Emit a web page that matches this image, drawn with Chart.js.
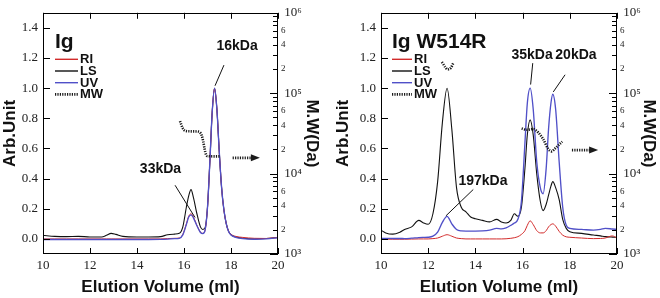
<!DOCTYPE html>
<html><head><meta charset="utf-8">
<script src="https://cdn.jsdelivr.net/npm/chart.js@4.4.1/dist/chart.umd.min.js"></script>
<style>
html,body{margin:0;padding:0;background:#fff;}
#wrap{position:relative;width:660px;height:298px;overflow:hidden;background:#fff;}
.pane{position:absolute;top:0;width:330px;height:298px;}
</style></head><body>
<div id="wrap">
<div class="pane" style="left:0"><canvas id="c1" width="330" height="298"></canvas></div>
<div class="pane" style="left:330px"><canvas id="c2" width="330" height="298"></canvas></div>
</div>
<script>
// ---------- data ----------
const igVol = [10, 10.5, 11, 11.5, 12, 12.5, 12.7, 12.9, 13.1, 13.4, 14, 14.5, 15, 15.3, 15.6, 15.8, 15.95, 16.1, 16.2, 16.3, 16.4, 16.55, 16.7, 16.8, 16.9, 17.0, 17.1, 17.2, 17.3, 17.4, 17.5, 17.6, 17.7, 17.8, 17.9, 18.0, 18.2, 18.5, 19.0, 19.5, 20];
const igLS  = [0.024, 0.017, 0.015, 0.017, 0.013, 0.013, 0.024, 0.037, 0.030, 0.017, 0.013, 0.013, 0.015, 0.028, 0.032, 0.037, 0.08, 0.21, 0.286, 0.327, 0.275, 0.167, 0.08, 0.063, 0.075, 0.21, 0.51, 0.84, 1.0, 0.86, 0.58, 0.34, 0.19, 0.10, 0.05, 0.028, 0.013, 0.005, 0.0, 0.003, 0.01];
const igRI  = [0, 0, 0, 0, 0, 0, 0, 0, 0, 0, 0, 0, 0, 0.002, 0.004, 0.006, 0.03, 0.10, 0.15, 0.167, 0.145, 0.09, 0.045, 0.037, 0.06, 0.21, 0.51, 0.84, 0.995, 0.86, 0.58, 0.34, 0.19, 0.10, 0.05, 0.03, 0.017, 0.01, 0.004, 0.003, 0.01];
const igUV  = [-0.004, -0.004, -0.004, -0.004, -0.004, -0.004, -0.004, -0.004, -0.004, -0.004, -0.004, -0.004, -0.003, -0.001, 0.002, 0.004, 0.027, 0.095, 0.145, 0.16, 0.14, 0.087, 0.043, 0.035, 0.06, 0.21, 0.51, 0.84, 1.0, 0.86, 0.58, 0.34, 0.19, 0.10, 0.048, 0.026, 0.011, 0.002, -0.002, 0.0, 0.009];
const igMwVol = [15.83, 15.88, 15.95, 16.05, 16.2, 16.4, 16.6, 16.68, 16.75, 16.82, 16.88, 16.93, 17.0, 17.2, 17.4, 17.56];
const igMw    = [45000, 41000, 36500, 34000, 33600, 33500, 33300, 32500, 30000, 25000, 20000, 17500, 16500, 16400, 16400, 16400];

const mutVol = [10, 10.2, 10.5, 10.8, 11, 11.3, 11.6, 11.8, 12, 12.2, 12.4, 12.6, 12.8, 13, 13.2, 13.4, 13.6, 13.8, 14, 14.3, 14.6, 14.9, 15.1, 15.3, 15.5, 15.65, 15.8, 15.95, 16.1, 16.2, 16.32, 16.45, 16.6, 16.75, 16.87, 17.0, 17.1, 17.2, 17.28, 17.4, 17.55, 17.7, 17.85, 18, 18.5, 19, 19.3, 19.5, 19.8, 20];
const mutLS = [0.058, 0.040, 0.032, 0.045, 0.063, 0.08, 0.123, 0.106, 0.097, 0.167, 0.38, 0.77, 1.0, 0.73, 0.34, 0.21, 0.18, 0.145, 0.134, 0.123, 0.113, 0.13, 0.113, 0.106, 0.123, 0.167, 0.15, 0.21, 0.47, 0.69, 0.79, 0.69, 0.43, 0.25, 0.188, 0.23, 0.29, 0.35, 0.38, 0.34, 0.26, 0.13, 0.07, 0.048, 0.037, 0.026, 0.02, 0.015, 0.012, 0.011];
const mutUV = [0.004, 0.004, 0.003, 0.003, 0.002, 0.005, 0.009, 0.010, 0.011, 0.018, 0.045, 0.11, 0.15, 0.10, 0.062, 0.053, 0.052, 0.052, 0.052, 0.053, 0.058, 0.07, 0.067, 0.074, 0.09, 0.105, 0.13, 0.25, 0.64, 0.90, 1.0, 0.86, 0.51, 0.34, 0.30, 0.47, 0.73, 0.90, 0.96, 0.86, 0.51, 0.21, 0.09, 0.07, 0.063, 0.058, 0.063, 0.07, 0.066, 0.063];
const mutRI = [-0.002, -0.002, -0.002, -0.002, -0.002, -0.001, 0, 0, 0, 0.002, 0.006, 0.018, 0.028, 0.018, 0.006, 0.002, 0, 0, 0, 0, 0, 0, 0, 0.001, 0.004, 0.008, 0.015, 0.03, 0.055, 0.09, 0.12, 0.095, 0.055, 0.04, 0.04, 0.055, 0.08, 0.095, 0.10, 0.085, 0.05, 0.025, 0.014, 0.011, 0.006, 0.002, 0.003, 0.006, 0.02, 0.006];
const mutMwVol = [12.58, 12.72, 12.82, 12.96, 13.07, 14.5, 15.96, 16.17, 16.45, 16.66, 16.87, 17.08, 17.23, 17.37, 17.58, 17.68];
const mutMw    = [244000, 212000, 198000, 207000, 239000, null, 36400, 35100, 35800, 32500, 26900, 20400, 18900, 20400, 23500, 25000];

const xTicks = [10, 12, 14, 16, 18, 20];
const yTicks = [0, 0.2, 0.4, 0.6, 0.8, 1.0, 1.2, 1.4];
const mwDecades = [3, 4, 5];
const mwLabeledMinor = [2, 4, 6];
const seriesNames = ['RI', 'LS', 'UV', 'MW'];

// ---------- styles ----------
const SERIF = "'Liberation Serif','Times New Roman','DejaVu Serif',serif";
const SANS = "'Liberation Sans',Arial,'DejaVu Sans',sans-serif";
const COLORS = {RI: '#d22b2b', LS: '#111111', UV: '#5050c8', MW: '#1a1a1a'};
const SUP = {3: '\u00B3', 4: '\u2074', 5: '\u2075', 6: '\u2076'};
Chart.defaults.font.family = SERIF;

function pts(xs, ys) { return xs.map((x, i) => ({x: x, y: ys[i]})); }

function makePanel(canvasId, p) {
  const ds = [
    {label: 'MW', data: pts(p.mwVol, p.mw), yAxisID: 'y2', borderColor: COLORS.MW, borderWidth: 2.6, borderDash: [1.2, 1.2], spanGaps: false, order: 0},
    {label: 'UV', data: pts(p.vol, p.uv), yAxisID: 'y', borderColor: COLORS.UV, borderWidth: 1.35, order: 1},
    {label: 'RI', data: pts(p.vol, p.ri), yAxisID: 'y', borderColor: COLORS.RI, borderWidth: 1.0, order: 2},
    {label: 'LS', data: pts(p.vol, p.ls), yAxisID: 'y', borderColor: COLORS.LS, borderWidth: 1.1, order: 3}
  ];
  ds.forEach(d => { d.pointRadius = 0; d.fill = false; d.cubicInterpolationMode = 'monotone'; });

  const tickFont = {family: SERIF, size: 13};
  const titleFont = {family: SANS, size: 17, weight: 'bold', lineHeight: 1.2};

  const deco = {
    id: 'deco' + canvasId,
    afterDraw(chart) {
      const {ctx, chartArea: a, scales} = chart;
      const X = scales.x, Y = scales.y, Y2 = scales.y2;
      ctx.save();
      // frame
      ctx.strokeStyle = '#000'; ctx.lineWidth = 1; ctx.setLineDash([]);
      ctx.strokeRect(Math.round(a.left) + 0.5, Math.round(a.top) + 0.5, Math.round(a.right - a.left) - 1, Math.round(a.bottom - a.top) - 1);
      // inward ticks
      ctx.beginPath();
      X.ticks.forEach(t => { const px = Math.round(X.getPixelForValue(t.value)) + 0.5; ctx.moveTo(px, a.bottom); ctx.lineTo(px, a.bottom - 6); ctx.moveTo(px, a.top); ctx.lineTo(px, a.top + 6); });
      Y.ticks.forEach(t => { const py = Math.round(Y.getPixelForValue(t.value)) + 0.5; ctx.moveTo(a.left, py); ctx.lineTo(a.left + 7, py); });
      Y2.ticks.forEach(t => { const py = Math.round(Y2.getPixelForValue(t.value)) + 0.5; const len = t.major ? 8 : 5; ctx.moveTo(a.right, py); ctx.lineTo(a.right - len, py); });
      ctx.stroke();

      // panel title + legend
      ctx.fillStyle = '#111'; ctx.textAlign = 'left'; ctx.textBaseline = 'alphabetic';
      ctx.font = 'bold 21px ' + SANS;
      ctx.fillText(p.title, a.left + p.lgLine0, a.top + 35);
      ctx.font = 'bold 13px ' + SANS; ctx.textBaseline = 'middle';
      seriesNames.forEach((name, i) => {
        const d = chart.data.datasets.find(s => s.label === name);
        const yy = a.top + 46.5 + i * 11.7;
        ctx.beginPath();
        ctx.strokeStyle = d.borderColor; ctx.lineWidth = name === 'MW' ? 2.6 : 1.4;
        ctx.setLineDash(d.borderDash || []);
        ctx.moveTo(a.left + p.lgLine0, yy); ctx.lineTo(a.left + p.lgLine1, yy); ctx.stroke();
        ctx.setLineDash([]);
        ctx.fillStyle = '#111';
        ctx.fillText(name, a.left + p.lgText, yy + 0.5);
      });

      // annotations
      ctx.font = 'bold 14px ' + SANS; ctx.textAlign = 'center'; ctx.textBaseline = 'middle';
      ctx.strokeStyle = '#111'; ctx.lineWidth = 1;
      p.notes.forEach(n => {
        ctx.fillText(n.text, X.getPixelForValue(n.at[0]), Y.getPixelForValue(n.at[1]));
        ctx.beginPath();
        ctx.moveTo(X.getPixelForValue(n.lead[0]), Y.getPixelForValue(n.lead[1]));
        ctx.lineTo(X.getPixelForValue(n.lead[2]), Y.getPixelForValue(n.lead[3]));
        ctx.stroke();
      });
      // arrow pointing to MW axis
      const ay = Y2.getPixelForValue(p.arrow.mw);
      const x0 = X.getPixelForValue(p.arrow.from), x1 = X.getPixelForValue(p.arrow.to);
      ctx.strokeStyle = COLORS.MW; ctx.fillStyle = COLORS.MW;
      ctx.lineWidth = 2.6; ctx.setLineDash([1.2, 1.2]);
      ctx.beginPath(); ctx.moveTo(x0, ay); ctx.lineTo(x1 - 8, ay); ctx.stroke();
      ctx.setLineDash([]);
      ctx.beginPath(); ctx.moveTo(x1, ay); ctx.lineTo(x1 - 9, ay - 3.5); ctx.lineTo(x1 - 9, ay + 3.5); ctx.closePath(); ctx.fill();
      ctx.restore();
    }
  };

  return new Chart(document.getElementById(canvasId), {
    type: 'line',
    data: {datasets: ds},
    options: {
      responsive: false, animation: false, devicePixelRatio: 1, events: [],
      layout: {padding: {top: 8, left: 0, right: 0, bottom: 0}},
      plugins: {legend: {display: false}, tooltip: {enabled: false}},
      scales: {
        x: {
          type: 'linear', min: 10, max: 20,
          afterBuildTicks: s => { s.ticks = xTicks.map(v => ({value: v})); },
          afterFit: s => { s.height = 44; },
          grid: {display: false, drawTicks: false}, border: {display: false},
          ticks: {font: tickFont, color: '#222', padding: 4, autoSkip: false, maxRotation: 0, callback: v => String(v)},
          title: {display: true, text: 'Elution Volume (ml)', font: titleFont, color: '#111', padding: {top: 0, bottom: 0.8}}
        },
        y: {
          type: 'linear', position: 'left', min: -0.1, max: 1.5,
          afterBuildTicks: s => { s.ticks = yTicks.map(v => ({value: v})); },
          afterFit: s => { s.width = p.leftW; },
          grid: {display: false, drawTicks: false}, border: {display: false},
          ticks: {font: tickFont, color: '#222', padding: 5, autoSkip: false, callback: v => Number(v).toFixed(1)},
          title: {display: true, text: 'Arb.Unit', font: titleFont, color: '#111', padding: {top: p.yTitlePad, bottom: 0}}
        },
        y2: {
          type: 'logarithmic', position: 'right', min: 1000, max: 1000000,
          afterBuildTicks: s => {
            const t = [];
            mwDecades.forEach(e => { for (let m = 1; m < 10; m++) t.push({value: m * Math.pow(10, e), major: m === 1}); });
            t.push({value: 1000000, major: true});
            s.ticks = t;
          },
          afterFit: s => { s.width = p.rightW; },
          grid: {display: false, drawTicks: false}, border: {display: false},
          ticks: {
            autoSkip: false, padding: 3, color: '#222',
            font: c => {
              const v = c.tick ? c.tick.value : 1000;
              const e = Math.floor(Math.log10(v) + 1e-9);
              const m = Math.round(v / Math.pow(10, e));
              return {family: SERIF, size: m === 1 ? 13 : 9};
            },
            callback: v => {
              const e = Math.floor(Math.log10(v) + 1e-9);
              const m = Math.round(v / Math.pow(10, e));
              if (m === 1) return ' 10' + SUP[e];
              return mwLabeledMinor.includes(m) ? String(m) : '';
            }
          },
          title: {display: true, text: 'M.W(Da)', font: titleFont, color: '#111', padding: {top: p.y2TitlePad, bottom: 0}}
        }
      }
    },
    plugins: [deco]
  });
}

makePanel('c1', {
  title: 'Ig', vol: igVol, ri: igRI, ls: igLS, uv: igUV, mwVol: igMwVol, mw: igMw,
  leftW: 43, rightW: 52, yTitlePad: 0, y2TitlePad: 7.8,
  lgLine0: 12, lgLine1: 35, lgText: 37,
  notes: [
    {text: '16kDa', at: [18.26, 1.277], lead: [17.70, 1.153, 17.32, 1.016]},
    {text: '33kDa', at: [15.0, 0.46], lead: [15.62, 0.356, 16.47, 0.142]}
  ],
  arrow: {from: 18.07, to: 19.23, mw: 15700}
});

makePanel('c2', {
  title: 'Ig W514R', vol: mutVol, ri: mutRI, ls: mutLS, uv: mutUV, mwVol: mutMwVol, mw: mutMw,
  leftW: 51, rightW: 43, yTitlePad: 3.5, y2TitlePad: 0.8,
  lgLine0: 11, lgLine1: 31, lgText: 33,
  notes: [
    {text: '35kDa', at: [16.40, 1.218], lead: [16.43, 1.166, 16.34, 1.024]},
    {text: '20kDa', at: [18.26, 1.218], lead: [17.80, 1.089, 17.30, 0.975]},
    {text: '197kDa', at: [14.32, 0.382], lead: [13.91, 0.328, 12.75, 0.153]}
  ],
  arrow: {from: 18.09, to: 19.2, mw: 19600}
});
</script>
</body></html>
